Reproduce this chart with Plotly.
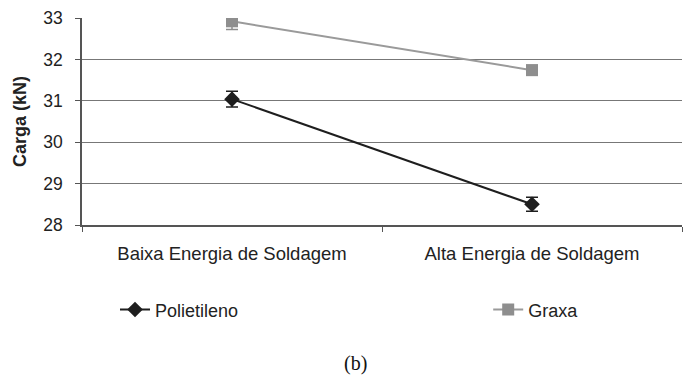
import plotly.graph_objects as go

categories = ["Baixa Energia de Soldagem", "Alta Energia de Soldagem"]
polietileno = [31.04, 28.50]
polietileno_err = [0.19, 0.17]
graxa = [32.92, 31.74]
graxa_err = [0.2, 0.12]
yticks = [28, 29, 30, 31, 32, 33]

FONT = "Liberation Sans, Arial, sans-serif"

fig = go.Figure()
fig.add_trace(go.Scatter(
    x=categories, y=polietileno, name="Polietileno", mode="lines+markers",
    line=dict(color="#1e1e1e", width=2),
    marker=dict(symbol="diamond", size=12, color="#1e1e1e"),
    error_y=dict(type="data", array=polietileno_err, color="#1e1e1e", thickness=1.5, width=6),
    legend="legend",
))
fig.add_trace(go.Scatter(
    x=categories, y=graxa, name="Graxa", mode="lines+markers",
    line=dict(color="#9a9a9a", width=2),
    marker=dict(symbol="square", size=12, color="#8e8e8e"),
    error_y=dict(type="data", array=graxa_err, color="#8e8e8e", thickness=1.5, width=6),
    legend="legend2",
))

legend_common = dict(
    orientation="h", yanchor="middle", y=-0.41, xanchor="left",
    font=dict(family=FONT, size=18, color="#222222"),
    bgcolor="rgba(0,0,0,0)",
)

fig.update_layout(
    width=688, height=380,
    margin=dict(l=82, r=6, t=18, b=155),
    paper_bgcolor="white", plot_bgcolor="white",
    font=dict(family=FONT, size=17, color="#222222"),
    showlegend=True,
    legend=dict(x=0.055, **legend_common),
    legend2=dict(x=0.677, **legend_common),
    xaxis=dict(
        type="category", range=[-0.5, 1.5], tickson="boundaries",
        ticks="outside", ticklen=5, tickcolor="#555555",
        showgrid=False, showline=True, linecolor="#555555", linewidth=1.5,
        tickfont=dict(family=FONT, size=18.5, color="#222222"),
        ticklabelstandoff=11,
    ),
    yaxis=dict(
        range=[28, 33], tickvals=yticks, ticktext=[str(v) for v in yticks],
        ticks="outside", ticklen=5, tickcolor="#555555",
        showgrid=True, gridcolor="#777777", gridwidth=1,
        showline=True, linecolor="#555555", linewidth=1.5,
        zeroline=False,
        tickfont=dict(family=FONT, size=17.5, color="#222222"),
        ticklabelstandoff=9,
        title=dict(text="<b>Carga (kN)</b>", font=dict(family=FONT, size=18, color="#222222"), standoff=12),
    ),
    annotations=[dict(
        text="(b)", xref="paper", yref="paper", x=0.455, y=-0.67,
        xanchor="center", yanchor="middle", showarrow=False,
        font=dict(family="Liberation Serif, Times New Roman, serif", size=20, color="#111111"),
    )],
)

fig.write_html("out.html")
